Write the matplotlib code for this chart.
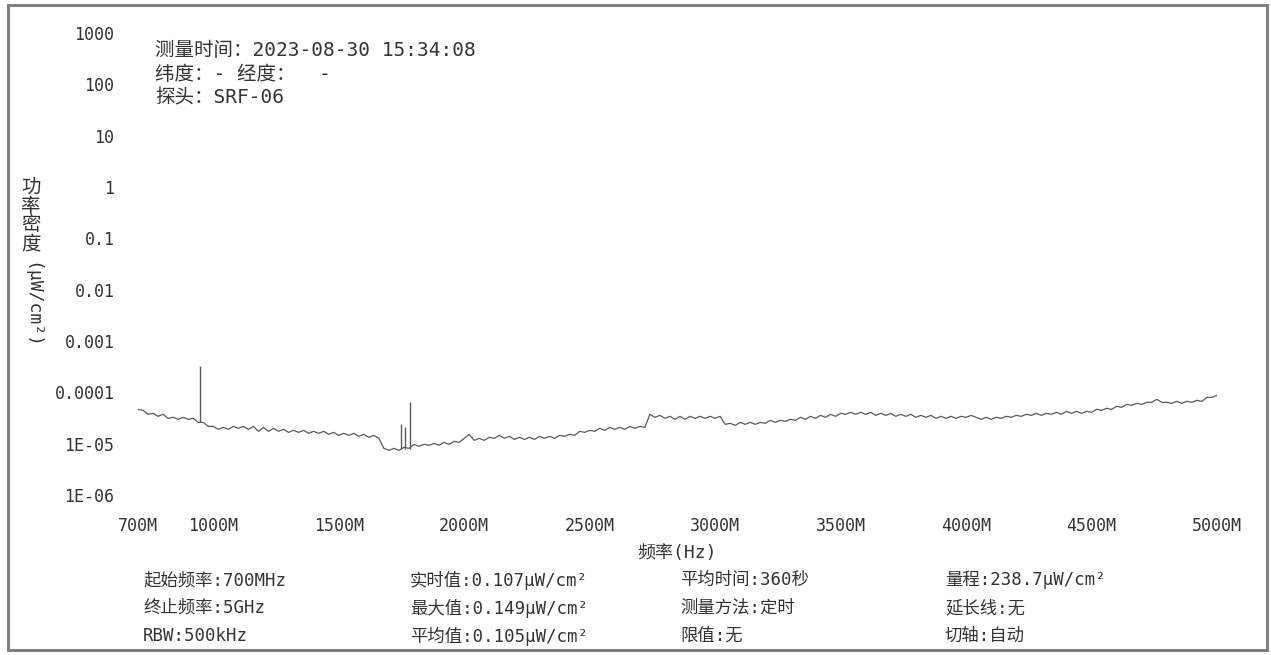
import numpy as np
import matplotlib
matplotlib.use("Agg")
import matplotlib.pyplot as plt
from matplotlib.patches import Rectangle

MIXED = ['DejaVu Sans Mono', 'Noto Sans CJK SC']
plt.rcParams['font.family'] = MIXED

# ---- data ----
freq_start_mhz = 700
freq_stop_mhz = 5000
freq_step_mhz = 20

# power density (x1e-5 uW/cm2), one value per 20 MHz from 700 MHz to 5000 MHz
density_e5 = [
    4.66, 4.46, 3.73, 3.90, 3.41, 3.73, 3.11, 3.26, 2.98, 3.26, 2.98, 3.11, 2.60,
    2.60, 2.17, 2.17, 1.90, 2.08, 1.90, 2.17, 1.99, 2.17, 1.90, 2.17, 1.74, 2.08,
    1.74, 1.99, 1.74, 1.90, 1.66, 1.82, 1.66, 1.82, 1.59, 1.74, 1.59, 1.74, 1.52,
    1.66, 1.45, 1.59, 1.45, 1.59, 1.39, 1.52, 1.33, 1.45, 1.27, 0.81, 0.74, 0.81,
    0.74, 0.85, 0.81, 0.97, 0.89, 0.97, 0.93, 1.01, 0.93, 1.06, 0.97, 1.11, 1.06,
    1.27, 1.52, 1.16, 1.27, 1.16, 1.33, 1.27, 1.45, 1.27, 1.39, 1.21, 1.33, 1.21,
    1.33, 1.21, 1.39, 1.27, 1.39, 1.27, 1.45, 1.39, 1.52, 1.45, 1.74, 1.66, 1.82,
    1.74, 1.99, 1.82, 2.08, 1.90, 2.08, 1.90, 2.17, 1.99, 2.17, 2.08, 3.73, 3.26,
    3.56, 3.11, 3.41, 2.98, 3.41, 2.98, 3.41, 3.11, 3.41, 3.11, 3.41, 3.11, 3.41,
    2.38, 2.49, 2.27, 2.60, 2.38, 2.60, 2.38, 2.60, 2.49, 2.85, 2.60, 2.85, 2.72,
    2.98, 2.85, 3.26, 2.98, 3.41, 3.11, 3.56, 3.26, 3.73, 3.41, 3.90, 3.73, 4.08,
    3.73, 4.08, 3.73, 4.08, 3.56, 3.90, 3.56, 3.90, 3.41, 3.73, 3.41, 3.73, 3.26,
    3.56, 3.26, 3.56, 3.11, 3.41, 3.11, 3.41, 3.11, 3.41, 3.26, 3.56, 3.26, 2.98,
    3.26, 2.98, 3.26, 3.11, 3.41, 3.26, 3.56, 3.41, 3.73, 3.56, 3.90, 3.56, 3.90,
    3.73, 4.08, 3.73, 4.26, 3.90, 4.26, 3.90, 4.26, 4.08, 4.66, 4.46, 4.88, 4.66,
    5.33, 5.10, 5.83, 5.58, 6.10, 5.83, 6.38, 6.38, 7.31, 6.38, 6.38, 6.10, 6.68,
    6.10, 6.68, 6.38, 6.98, 6.68, 7.99, 7.99, 8.74,
]

# narrow spikes
spike_freqs_mhz = [947, 1748, 1764, 1784]
spike_base = [2.6e-5, 0.8e-5, 0.8e-5, 0.8e-5]
spike_peak = [3.2e-4, 2.4e-5, 2.1e-5, 6.4e-5]

x_tick_values = [700, 1000, 1500, 2000, 2500, 3000, 3500, 4000, 4500, 5000]
x_tick_labels = ['700M', '1000M', '1500M', '2000M', '2500M', '3000M',
                 '3500M', '4000M', '4500M', '5000M']
y_tick_values = [1e3, 1e2, 1e1, 1, 0.1, 0.01, 0.001, 1e-4, 1e-5, 1e-6]
y_tick_labels = ['1000', '100', '10', '1', '0.1', '0.01', '0.001',
                 '0.0001', '1E-05', '1E-06']

header_lines = ['测量时间：2023-08-30 15:34:08', '纬度：- 经度：  -', '探头：SRF-06']
info_columns = [
    ['起始频率:700MHz', '终止频率:5GHz', 'RBW:500kHz'],
    ['实时值:0.107μW/cm²', '最大值:0.149μW/cm²', '平均值:0.105μW/cm²'],
    ['平均时间:360秒', '测量方法:定时', '限值:无'],
    ['量程:238.7μW/cm²', '延长线:无', '切轴:自动'],
]

# ---- figure ----
W, H = 1271, 655
fig = plt.figure(figsize=(W / 100, H / 100), dpi=100)
fig.patch.set_facecolor('white')
TXT = '#333333'

def fx(px):
    return px / W

def fy(py):
    return 1 - py / H

ax = fig.add_axes([fx(138), fy(495), fx(1217) - fx(138), fy(33) - fy(495)])
freqs = np.arange(freq_start_mhz, freq_stop_mhz + 1, freq_step_mhz)
values = np.array(density_e5) * 1e-5
ax.plot(freqs, values, color='#5a5a5a', lw=0.9)
ax.vlines(spike_freqs_mhz, spike_base, spike_peak, color='#5a5a5a', lw=1.0)

ax.set_yscale('log')
ax.set_xlim(freq_start_mhz, freq_stop_mhz)
ax.set_ylim(1e-6, 1e3)
ax.set_xticks(x_tick_values)
ax.set_xticklabels(x_tick_labels)
ax.set_yticks(y_tick_values)
ax.set_yticklabels(y_tick_labels)
ax.yaxis.set_minor_locator(matplotlib.ticker.NullLocator())
ax.tick_params(axis='both', length=0, labelsize=12, colors=TXT)
ax.tick_params(axis='y', pad=17)
ax.tick_params(axis='x', pad=16)
for s in ax.spines.values():
    s.set_visible(False)

ax.set_xlabel('频率(Hz)', fontsize=13, color=TXT, labelpad=6)

# y label: upright CJK stacked + rotated unit
fig.text(fx(31), fy(178), '功\n率\n密\n度', fontsize=14, color=TXT,
         ha='center', va='top', linespacing=0.98)
fig.text(fx(31), fy(262), '(μW/cm²)', fontsize=13, color=TXT,
         ha='center', va='top', rotation=-90)

# header text
for i, line in enumerate(header_lines):
    fig.text(fx(155), fy(50 + 24 * i), line, fontsize=14, color=TXT,
             ha='left', va='center')

# info text
col_x = [143, 410, 680, 945]
row_y = [580, 608, 636]
for cx, col in zip(col_x, info_columns):
    for ry, t in zip(row_y, col):
        fig.text(fx(cx), fy(ry), t, fontsize=12.5, color=TXT,
                 ha='left', va='center')

# frame border
fig.add_artist(Rectangle((fx(8), fy(650)), fx(1267) - fx(8), fy(5) - fy(650),
                         transform=fig.transFigure, fill=False,
                         edgecolor='#808080', lw=2.2))

fig.savefig('out.png', dpi=100, facecolor='white')
